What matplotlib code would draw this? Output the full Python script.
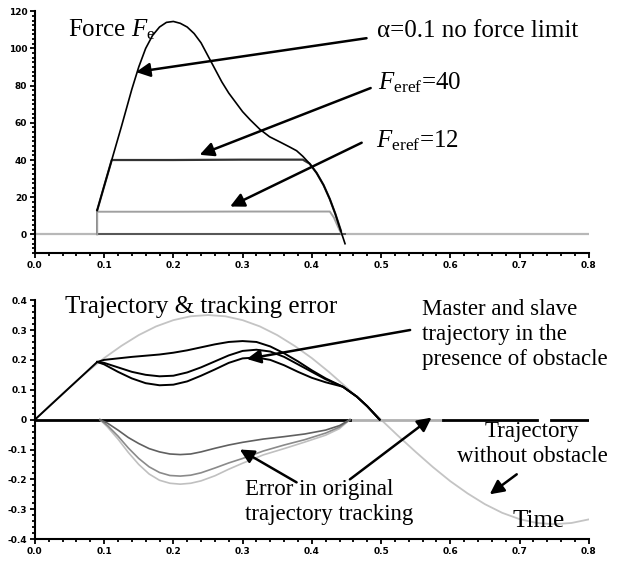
import matplotlib
matplotlib.use("Agg")
import matplotlib.pyplot as plt
from matplotlib.ticker import MultipleLocator, FuncFormatter

# =====================================================
# DATA
# =====================================================

# top panel: contact force
t_alpha = [0.09, 0.10, 0.111, 0.125, 0.14, 0.15, 0.16, 0.17, 0.18, 0.19, 0.2,
           0.21, 0.22, 0.23, 0.24, 0.25, 0.26, 0.27, 0.28, 0.29, 0.30, 0.311,
           0.325, 0.339, 0.355, 0.368, 0.378, 0.387, 0.397, 0.407, 0.417,
           0.426, 0.434, 0.44, 0.448]
f_alpha = [13, 26, 40, 58, 78, 90, 100, 107, 111.5, 114, 114.5,
           113.5, 111.5, 108, 103, 96, 89, 82, 76, 71, 66, 61.6,
           56.5, 52.5, 49.5, 47, 45, 42, 38, 33, 26.5,
           19, 11, 4, -5]

t_f40 = [0.09, 0.111, 0.2, 0.3, 0.387, 0.397, 0.407, 0.417, 0.426, 0.434, 0.442]
f_f40 = [13, 40, 40, 40.2, 40.2, 38, 33, 26.5, 19, 11, 2]

t_f12 = [0.09, 0.09, 0.2, 0.3, 0.426, 0.432, 0.438, 0.443]
f_f12 = [0, 12.2, 12.2, 12.3, 12.3, 9, 4, 0]

t_contact = [0.09, 0.09, 0.448]
f_contact = [13, 0, 0]

t_base = [0.0, 0.8]
f_base = [0, 0]

# bottom panel: trajectories and tracking error
t_free = [0, 0.025, 0.05, 0.075, 0.1, 0.125, 0.15, 0.175, 0.2, 0.225, 0.25,
          0.275, 0.3, 0.325, 0.35, 0.375, 0.4, 0.425, 0.45, 0.475, 0.5,
          0.525, 0.55, 0.575, 0.6, 0.625, 0.65, 0.675, 0.7, 0.725, 0.75,
          0.775, 0.8]
y_free = [0, 0.055, 0.108, 0.159, 0.206, 0.247, 0.283, 0.312, 0.333, 0.346, 0.35,
          0.346, 0.333, 0.312, 0.283, 0.247, 0.206, 0.159, 0.108, 0.055, 0,
          -0.055, -0.108, -0.159, -0.206, -0.247, -0.283, -0.312, -0.333, -0.346, -0.35,
          -0.346, -0.334]

t_ramp = [0, 0.09]
y_ramp = [0, 0.193]

t_obs = [0.09, 0.1, 0.12, 0.14, 0.16, 0.18, 0.2, 0.22, 0.24, 0.26, 0.28, 0.3,
         0.32, 0.34, 0.36, 0.38, 0.40, 0.42, 0.445, 0.465, 0.48, 0.498]
y_upper = [0.193, 0.2, 0.205, 0.21, 0.214, 0.218, 0.224, 0.232, 0.242, 0.252, 0.26, 0.263,
           0.26, 0.245, 0.222, 0.195, 0.165, 0.138, 0.11, 0.077, 0.045, 0.0]
y_middle = [0.193, 0.19, 0.175, 0.16, 0.15, 0.145, 0.147, 0.158, 0.175, 0.195, 0.215, 0.23,
            0.234, 0.228, 0.21, 0.185, 0.16, 0.135, 0.11, 0.077, 0.045, 0.0]
y_lower = [0.193, 0.185, 0.16, 0.138, 0.122, 0.115, 0.117, 0.128, 0.147, 0.168, 0.19, 0.205,
           0.208, 0.2, 0.182, 0.16, 0.14, 0.125, 0.11, 0.077, 0.045, 0.0]

t_err = [0.094, 0.105, 0.12, 0.135, 0.15, 0.165, 0.18, 0.195, 0.21, 0.225, 0.24,
         0.26, 0.28, 0.3, 0.33, 0.36, 0.39, 0.42, 0.44, 0.455]
e_dark = [0, -0.012, -0.035, -0.06, -0.08, -0.097, -0.108, -0.115, -0.117, -0.115, -0.108,
          -0.096, -0.085, -0.076, -0.065, -0.057, -0.048, -0.035, -0.02, 0]
e_mid = [0, -0.02, -0.055, -0.095, -0.13, -0.158, -0.177, -0.187, -0.189, -0.186, -0.178,
         -0.162, -0.145, -0.13, -0.105, -0.085, -0.067, -0.045, -0.025, 0]
e_light = [0, -0.025, -0.065, -0.11, -0.15, -0.182, -0.203, -0.213, -0.216, -0.213, -0.205,
           -0.188, -0.166, -0.146, -0.118, -0.097, -0.075, -0.052, -0.03, 0]

zero_black = [(0.0, 0.455), (0.59, 0.725), (0.745, 0.8)]
zero_gray = [(0.455, 0.59)]

x_ticks = [0, 0.1, 0.2, 0.3, 0.4, 0.5, 0.6, 0.7, 0.8]
force_ticks = [0, 20, 40, 60, 80, 100, 120]
traj_ticks = [-0.4, -0.3, -0.2, -0.1, 0, 0.1, 0.2, 0.3, 0.4]

# =====================================================
# STYLE
# =====================================================

plt.rcParams["font.family"] = ["Liberation Serif", "DejaVu Serif"]
plt.rcParams["mathtext.fontset"] = "custom"
plt.rcParams["mathtext.rm"] = "Liberation Serif"
plt.rcParams["mathtext.it"] = "Liberation Serif:italic"

TXT = 18
MULTI = 16.5
ARROW = dict(arrowstyle="-|>", lw=1.8, color="black", mutation_scale=21,
             shrinkA=0, shrinkB=0)

fig = plt.figure(figsize=(6.23, 5.61), dpi=100)
ax1 = fig.add_axes([0.056, 0.549, 0.889, 0.431])
ax2 = fig.add_axes([0.056, 0.039, 0.889, 0.426])


def style_axis(ax, minor_y):
    for side in ["top", "right"]:
        ax.spines[side].set_visible(False)
    for side in ["left", "bottom"]:
        ax.spines[side].set_linewidth(1.5)
    ax.set_xlim(0, 0.8)
    ax.set_xticks(x_ticks)
    ax.xaxis.set_minor_locator(MultipleLocator(0.02))
    ax.yaxis.set_minor_locator(MultipleLocator(minor_y))
    ax.tick_params(which="major", direction="out", length=3.5, width=1.3,
                   labelsize=6.5, pad=2)
    ax.tick_params(which="minor", direction="out", length=2, width=1.3)
    for lab in ax.get_xticklabels() + ax.get_yticklabels():
        lab.set_family("DejaVu Sans")
        lab.set_fontweight("bold")


def fmt(v, _):
    if abs(v) < 1e-9:
        return "0"
    return f"{v:g}"


# =====================================================
# TOP PANEL
# =====================================================

ax1.plot(t_base, f_base, color="#b8b8b8", lw=1.6)
ax1.plot(t_contact, f_contact, color="#555555", lw=1.4)
ax1.plot(t_f12, f_f12, color="#a0a0a0", lw=1.4)
ax1.plot(t_f40, f_f40, color="#333333", lw=1.6)
ax1.plot(t_alpha, f_alpha, color="black", lw=1.2)

ax1.set_ylim(-10, 120)
ax1.set_yticks(force_ticks)
ax1.yaxis.set_major_formatter(FuncFormatter(fmt))
style_axis(ax1, 2.5)

ax1.text(0.048, 106.6, r"Force $F_{\mathrm{e}}$", fontsize=TXT, va="baseline")
ax1.text(0.494, 106, "\u03b1=0.1 no force limit", fontsize=TXT, va="baseline")
ax1.text(0.495, 77.7, r"$F_{\mathrm{eref}}$=40", fontsize=TXT, va="baseline")
ax1.text(0.492, 47, r"$F_{\mathrm{eref}}$=12", fontsize=TXT, va="baseline")

ax1.annotate("", xy=(0.146, 87.3), xytext=(0.479, 105.5), arrowprops=ARROW)
ax1.annotate("", xy=(0.238, 42.8), xytext=(0.485, 78.7), arrowprops=ARROW)
ax1.annotate("", xy=(0.282, 15), xytext=(0.472, 49.3), arrowprops=ARROW)

# =====================================================
# BOTTOM PANEL
# =====================================================

ax2.plot(t_free, y_free, color="#c4c4c4", lw=1.3)
for a, b in zero_gray:
    ax2.plot([a, b], [0, 0], color="#b0b0b0", lw=2.0)
for a, b in zero_black:
    ax2.plot([a, b], [0, 0], color="black", lw=2.0)
ax2.plot(t_err, e_light, color="#c0c0c0", lw=1.2)
ax2.plot(t_err, e_mid, color="#8a8a8a", lw=1.2)
ax2.plot(t_err, e_dark, color="#606060", lw=1.2)
ax2.plot(t_ramp, y_ramp, color="black", lw=1.4)
ax2.plot(t_obs, y_upper, color="black", lw=1.4)
ax2.plot(t_obs, y_middle, color="black", lw=1.4)
ax2.plot(t_obs, y_lower, color="black", lw=1.4)

ax2.set_ylim(-0.4, 0.4)
ax2.set_yticks(traj_ticks)
ax2.yaxis.set_major_formatter(FuncFormatter(fmt))
style_axis(ax2, 0.02)

ax2.text(0.043, 0.357, "Trajectory & tracking error", fontsize=TXT, va="baseline")
ax2.text(0.559, 0.405, "Master and slave\ntrajectory in the\npresence of obstacle",
         fontsize=MULTI, va="top", ha="left", linespacing=1.25)
ax2.text(0.303, -0.2, "Error in original\ntrajectory tracking",
         fontsize=MULTI, va="top", ha="left", linespacing=1.25)
ax2.text(0.718, -0.005, "Trajectory\nwithout obstacle",
         fontsize=MULTI, va="top", ha="center", linespacing=1.25)
ax2.text(0.69, -0.36, "Time", fontsize=TXT, va="baseline")

ax2.annotate("", xy=(0.306, 0.203), xytext=(0.542, 0.3), arrowprops=ARROW)
ax2.annotate("", xy=(0.296, -0.1), xytext=(0.378, -0.21), arrowprops=ARROW)
ax2.annotate("", xy=(0.573, 0.007), xytext=(0.455, -0.2), arrowprops=ARROW)
ax2.annotate("", xy=(0.657, -0.25), xytext=(0.696, -0.183), arrowprops=ARROW)

fig.savefig("out.png", dpi=100)
